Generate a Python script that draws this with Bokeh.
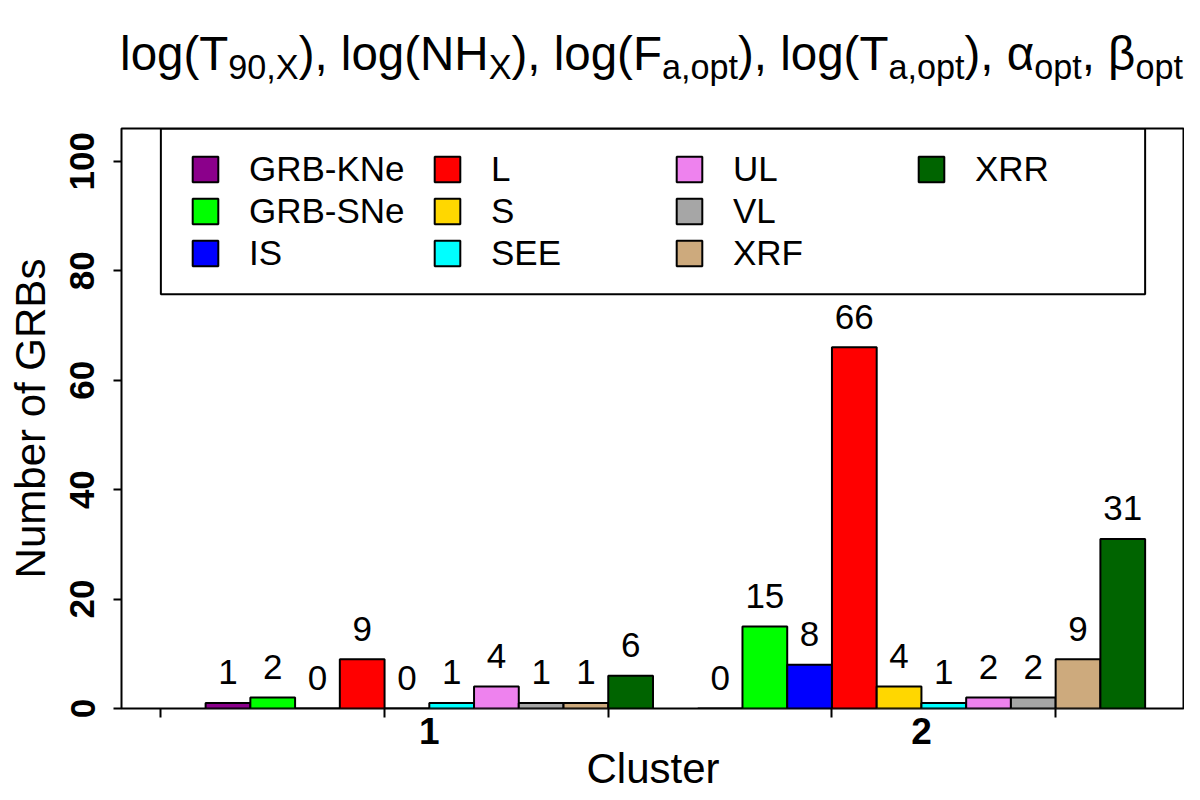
from bokeh.plotting import figure
from bokeh.models import (Range1d, FixedTicker, Legend, LegendItem, BoxAnnotation, Div,
                          ColumnDataSource)
from bokeh.layouts import column
from bokeh.core.properties import value
from bokeh.embed import file_html
from bokeh.resources import INLINE

# ---------------- data ----------------
categories = ["GRB-KNe", "GRB-SNe", "IS", "L", "S", "SEE", "UL", "VL", "XRF", "XRR"]
colors = ["#8B008B", "#00FF00", "#0000FF", "#FF0000", "#FFD700",
          "#00FFFF", "#EE82EE", "#A6A6A6", "#CDAA7D", "#006400"]
clusters = ["1", "2"]
cluster1_counts = [1, 2, 0, 9, 0, 1, 4, 1, 1, 6]
cluster2_counts = [0, 15, 8, 66, 4, 1, 2, 2, 9, 31]
y_ticks = [0, 20, 40, 60, 80, 100]
x_minor_ticks = [0, 5, 10, 15, 20]

counts = [cluster1_counts, cluster2_counts]
n = len(categories)
FONT = "Liberation Sans"

# R barplot(beside=TRUE) style layout: one bar-width gap before each group
def bar_center(g, k):
    return 1 + g * (n + 1) + k + 0.5

group_centers = [int(1 + g * (n + 1) + n / 2) for g in range(len(clusters))]
x_lo, x_hi = 0, len(clusters) * (n + 1)
pad = 0.04 * (x_hi - x_lo)
label_gap = 5.6  # data units between bar top and value label centre

p = figure(width=1184, height=674,
           x_range=Range1d(x_lo - pad, x_hi + pad), y_range=Range1d(0, 106),
           output_backend="svg", toolbar_location=None,
           min_border_left=121, min_border_right=0, min_border_top=8, min_border_bottom=86)
p.xgrid.visible = False
p.ygrid.visible = False
p.outline_line_color = "black"
p.outline_line_width = 2
p.outline_line_alpha = 1
p.background_fill_color = "white"
p.border_fill_color = "white"

renderers = []
for k, cat in enumerate(categories):
    tops = [counts[g][k] for g in range(len(clusters))]
    src = ColumnDataSource(dict(
        x=[bar_center(g, k) for g in range(len(clusters))],
        top=tops,
        label_y=[t + label_gap for t in tops],
        label=[str(t) for t in tops],
    ))
    r = p.vbar(x="x", top="top", bottom=0, width=1, source=src,
               fill_color=colors[k], line_color="black", line_width=2)
    renderers.append(r)
    p.text(x="x", y="label_y", text="label", source=src,
           text_align="center", text_baseline="middle",
           text_font=value(FONT), text_font_size="35px", text_color="black")

# legend frame (R legend box spanning the bar range at the top)
p.add_layout(BoxAnnotation(left=x_lo, right=x_hi, bottom=75.7, top=106,
                           fill_color=None, fill_alpha=0,
                           line_color="black", line_alpha=1, line_width=2))

legend = Legend(items=[LegendItem(label=c, renderers=[r]) for c, r in zip(categories, renderers)],
                nrows=3, orientation="vertical", location=(68, 435),
                glyph_width=32, glyph_height=32, label_standoff=28, label_width=180,
                spacing=2, padding=10, margin=0,
                label_text_font=FONT, label_text_font_size="35px", label_text_color="black",
                border_line_color=None, background_fill_alpha=0)
p.add_layout(legend)

# x axis
xa = p.xaxis[0]
xa.ticker = FixedTicker(ticks=group_centers, minor_ticks=x_minor_ticks)
xa.major_label_overrides = {c: lab for c, lab in zip(group_centers, clusters)}
xa.major_tick_out = 0
xa.major_tick_in = 0
xa.minor_tick_out = 9
xa.minor_tick_in = 0
xa.minor_tick_line_width = 2
xa.minor_tick_line_color = "black"
xa.axis_line_color = None
xa.major_label_standoff = 0
xa.major_label_text_font = FONT
xa.major_label_text_font_size = "37px"
xa.major_label_text_font_style = "bold"
xa.major_label_text_color = "black"
xa.axis_label = "Cluster"
xa.axis_label_text_font = FONT
xa.axis_label_text_font_size = "42px"
xa.axis_label_text_font_style = "normal"
xa.axis_label_text_color = "black"
xa.axis_label_standoff = -2

# y axis
ya = p.yaxis[0]
ya.ticker = FixedTicker(ticks=y_ticks)
ya.major_tick_out = 8
ya.major_tick_in = 0
ya.major_tick_line_width = 2
ya.major_tick_line_color = "black"
ya.minor_tick_out = 0
ya.minor_tick_in = 0
ya.axis_line_color = None
ya.major_label_orientation = "vertical"
ya.major_label_standoff = 19
ya.major_label_text_font = FONT
ya.major_label_text_font_size = "35px"
ya.major_label_text_font_style = "bold"
ya.major_label_text_color = "black"
ya.axis_label = "Number of GRBs"
ya.axis_label_text_font = FONT
ya.axis_label_text_font_size = "42px"
ya.axis_label_text_font_style = "normal"
ya.axis_label_text_color = "black"
ya.axis_label_standoff = 14

# title with subscripts
sub = "font-size:0.72em;vertical-align:baseline;position:relative;top:8.5px"
title_html = (
    '<div style="margin-left:115px;width:1063px;text-align:center;white-space:nowrap;'
    "font-family:'Liberation Sans',Arial,sans-serif;font-size:47.5px;line-height:1;"
    'padding-top:25px;color:#000">'
    f'log(T<sub style="{sub}">90,X</sub>), log(NH<sub style="{sub}">X</sub>), '
    f'log(F<sub style="{sub}">a,opt</sub>), log(T<sub style="{sub}">a,opt</sub>), '
    f'\u03b1<sub style="{sub}">opt</sub>, \u03b2<sub style="{sub}">opt</sub>'
    '</div>'
)
title_div = Div(text=title_html, width=1184, height=110)

layout = column(title_div, p)
open("out.html", "w").write(file_html(layout, INLINE))
